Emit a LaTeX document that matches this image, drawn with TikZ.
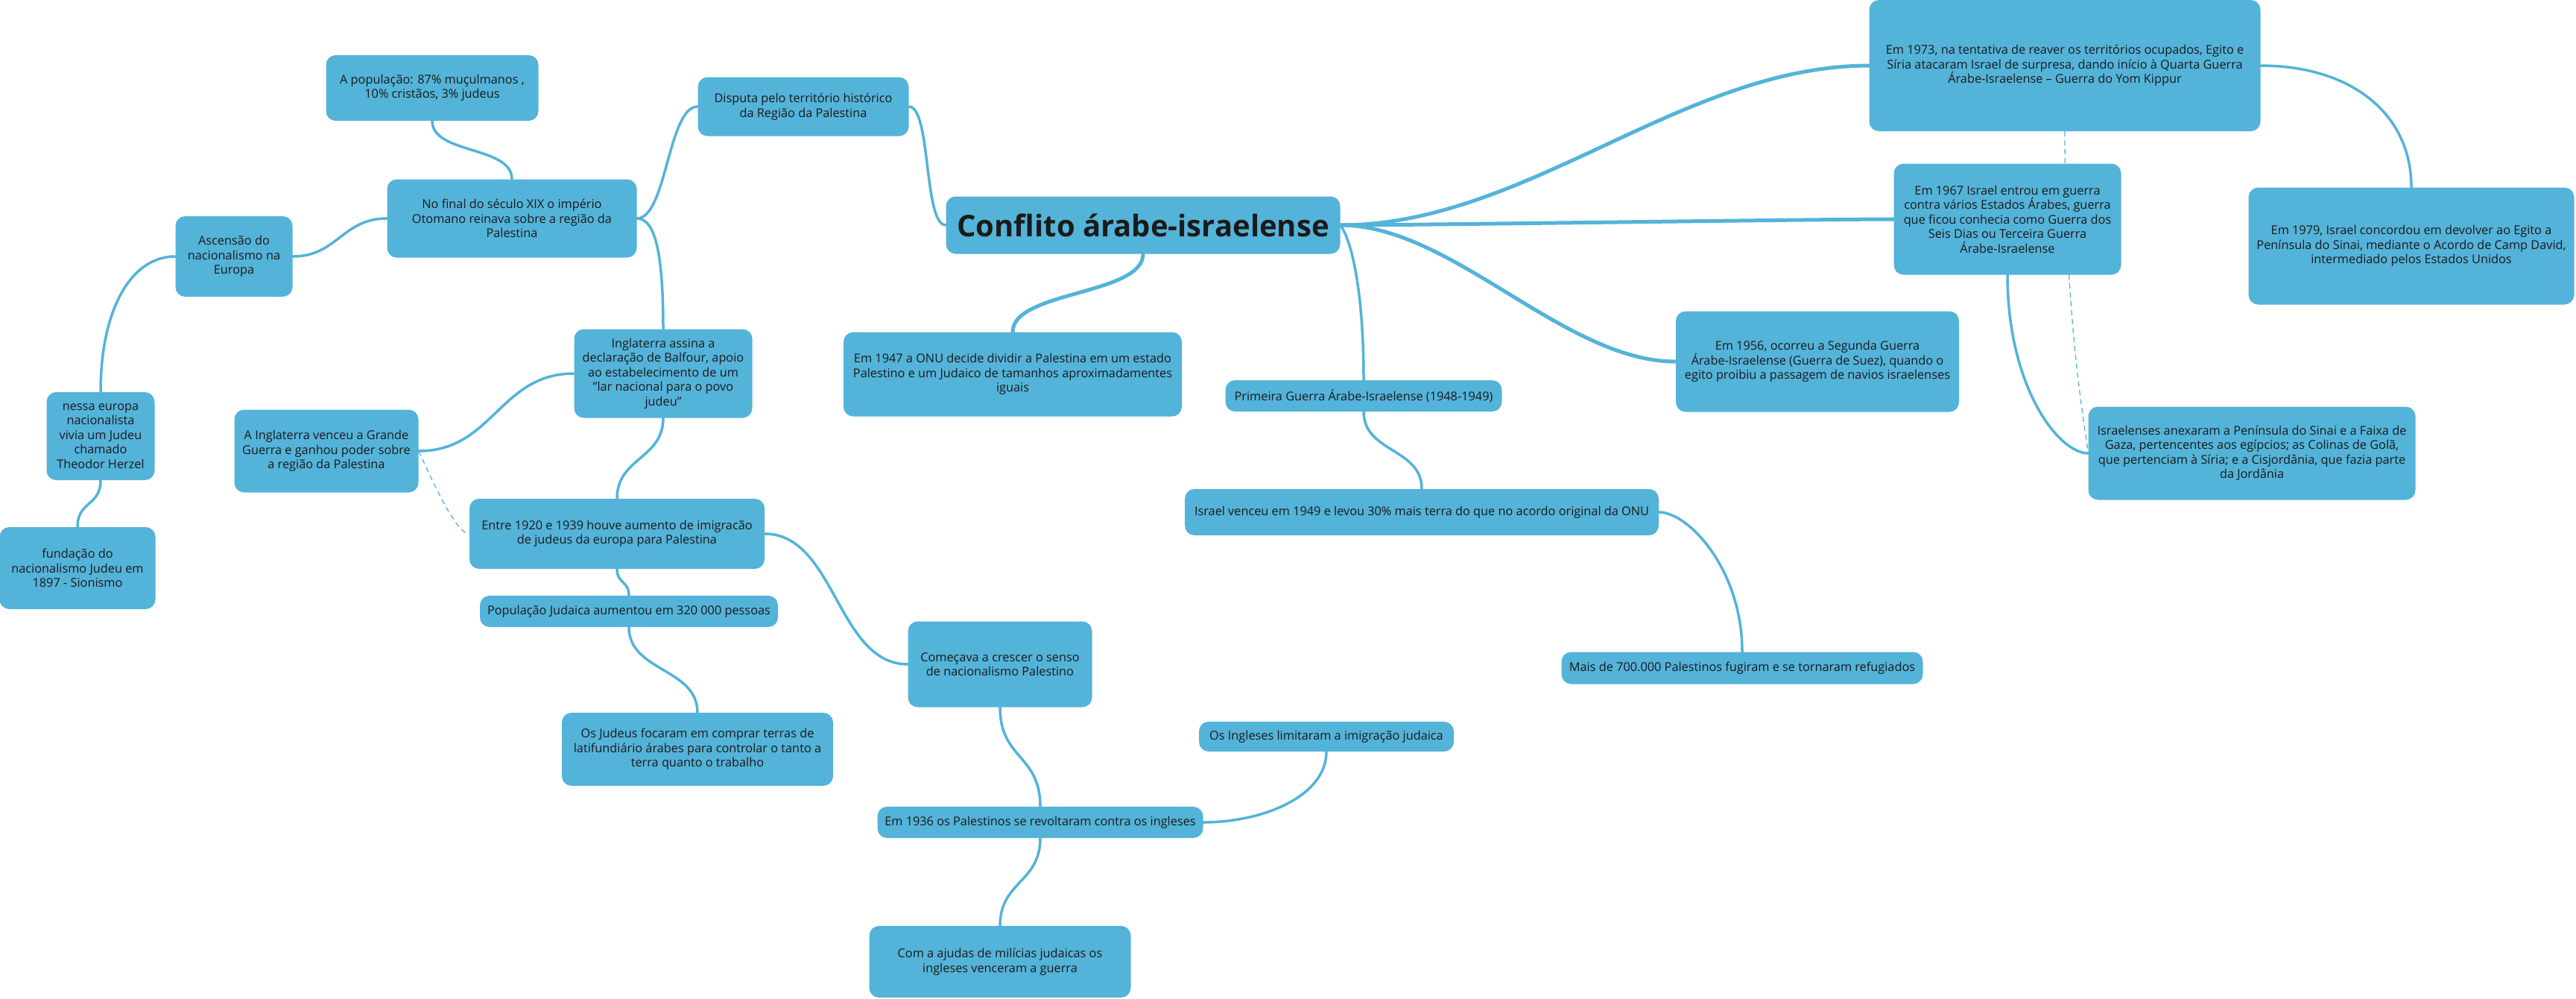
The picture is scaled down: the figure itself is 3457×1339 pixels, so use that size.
\documentclass[tikz,border=0pt]{standalone}
\usepackage{fontspec}
\setmainfont{Open Sans}
\definecolor{boxblue}{HTML}{54B3D9}
\definecolor{ink}{HTML}{1A1A1A}
\pgfdeclarelayer{back}
\pgfsetlayers{back,main}
\begin{document}
\begin{tikzpicture}[x=1pt, y=-1pt,
  box/.style={fill=boxblue, rounded corners=13pt, align=center, text=ink, inner sep=3pt,
    font=\fontsize{16.3}{19.5}\selectfont},
  sz/.style 2 args={minimum width=#1pt, minimum height=#2pt},
  link/.style={draw=boxblue, line width=3.5pt, line cap=round},
  mainlink/.style={link, line width=5pt},
  dashlink/.style={draw=boxblue, line width=1.3pt, dash pattern=on 7pt off 5pt}]
  \useasboundingbox (0,0) rectangle (3457,1339);

  \node[box, sz={529}{77}, font=\bfseries\fontsize{40}{46}\selectfont] (conf) at (1534,302) {Conflito árabe-israelense};

  \node[box, sz={283}{79}] (disp) at (1078,143) {Disputa pelo território histórico\\da Região da Palestina};
  \node[box, sz={335}{105}] (final) at (687,293) {No final do século XIX o império\\Otomano reinava sobre a região da\\Palestina};
  \node[box, sz={285}{88}] (popul) at (580,118) {A população: 87\% muçulmanos ,\\10\% cristãos, 3\% judeus};
  \node[box, sz={157}{108}] (ascen) at (314,344) {Ascensão do\\nacionalismo na\\Europa};
  \node[box, sz={145}{118}] (herzel) at (135,585) {nessa europa\\nacionalista\\vivia um Judeu\\chamado\\Theodor Herzel};
  \node[box, sz={209}{110}] (sion) at (104,762) {fundação do\\nacionalismo Judeu em\\1897 - Sionismo};
  \node[box, sz={247}{111}] (venc) at (438,605) {A Inglaterra venceu a Grande\\Guerra e ganhou poder sobre\\a região da Palestina};
  \node[box, sz={239}{119}] (balf) at (890,501) {Inglaterra assina a\\declaração de Balfour, apoio\\ao estabelecimento de um\\"lar nacional para o povo\\judeu"};
  \node[box, sz={396}{94}] (imig) at (828,716) {Entre 1920 e 1939 houve aumento de imigracão\\de judeus da europa para Palestina};
  \node[box, sz={400}{42}] (judpop) at (844,820) {População Judaica aumentou em 320 000 pessoas};
  \node[box, sz={364}{98}] (terras) at (936,1005) {Os Judeus focaram em comprar terras de\\latifundiário árabes para controlar o tanto a\\terra quanto o trabalho};
  \node[box, sz={247}{115}] (senso) at (1342,891) {Começava a crescer o senso\\de nacionalismo Palestino};
  \node[box, sz={342}{40}] (limit) at (1780,988) {Os Ingleses limitaram a imigração judaica};
  \node[box, sz={437}{42}] (revolt) at (1396,1103) {Em 1936 os Palestinos se revoltaram contra os ingleses};
  \node[box, sz={351}{96}] (milic) at (1342,1290) {Com a ajudas de milícias judaicas os\\ingleses venceram a guerra};

  \node[box, sz={454}{113}] (onu) at (1359,502) {Em 1947 a ONU decide dividir a Palestina em um estado\\Palestino e um Judaico de tamanhos aproximadamentes\\iguais};
  \node[box, sz={371}{42}] (prim) at (1830,531) {Primeira Guerra Árabe-Israelense (1948-1949)};
  \node[box, sz={636}{62}] (venceu) at (1908,687) {Israel venceu em 1949 e levou 30\% mais terra do que no acordo original da ONU};
  \node[box, sz={485}{43}] (refug) at (2338,896) {Mais de 700.000 Palestinos fugiram e se tornaram refugiados};
  \node[box, sz={380}{135}] (suez) at (2439,485) {Em 1956, ocorreu a Segunda Guerra\\Árabe-Israelense (Guerra de Suez), quando o\\egito proibiu a passagem de navios israelenses};
  \node[box, sz={305}{149}] (seis) at (2694,294) {Em 1967 Israel entrou em guerra\\contra vários Estados Árabes, guerra\\que ficou conhecia como Guerra dos\\Seis Dias ou Terceira Guerra\\Árabe-Israelense};
  \node[box, sz={525}{176}] (yom) at (2771,88) {Em 1973, na tentativa de reaver os territórios ocupados, Egito e\\Síria atacaram Israel de surpresa, dando início à Quarta Guerra\\Árabe-Israelense – Guerra do Yom Kippur};
  \node[box, sz={437}{157}] (camp) at (3236,330) {Em 1979, Israel concordou em devolver ao Egito a\\Península do Sinai, mediante o Acordo de Camp David,\\intermediado pelos Estados Unidos};
  \node[box, sz={439}{125}] (anex) at (3022,608) {Israelenses anexaram a Península do Sinai e a Faixa de\\Gaza, pertencentes aos egípcios; as Colinas de Golã,\\que pertenciam à Síria; e a Cisjordânia, que fazia parte\\da Jordânia};

  \begin{pgfonlayer}{back}
    \draw[link] (disp.east) .. controls +(30,0) and +(-30,0) .. (conf.west);
    \draw[link] (final.east) .. controls +(40,0) and +(-40,0) .. (disp.west);
    \draw[link] (final.east) .. controls +(25,0) and +(0,-100) .. (balf.north);
    \draw[link] (popul.south) .. controls +(0,45) and +(0,-45) .. (final.north);
    \draw[link] (ascen.east) .. controls +(60,0) and +(-60,0) .. (final.west);
    \draw[link] (ascen.west) .. controls +(-60,0) and +(0,-110) .. (herzel.north);
    \draw[link] (herzel.south) .. controls +(0,35) and +(0,-35) .. (sion.north);
    \draw[link] (venc.east) .. controls +(100,0) and +(-100,0) .. (balf.west);
    \draw[dashlink] (venc.east) .. controls +(10,20) and +(-20,0) .. (imig.west);
    \draw[link] (balf.south) .. controls +(0,55) and +(0,-55) .. (imig.north);
    \draw[link] (imig.south) .. controls +(0,20) and +(0,-20) .. (judpop.north);
    \draw[link] (judpop.south) .. controls +(0,60) and +(0,-60) .. (terras.north);
    \draw[link] (imig.east) .. controls +(95,0) and +(-95,0) .. (senso.west);
    \draw[link] (senso.south) .. controls +(0,70) and +(0,-70) .. (revolt.north);
    \draw[link] (limit.south) .. controls +(0,60) and +(80,0) .. (revolt.east);
    \draw[link] (revolt.south) .. controls +(0,60) and +(0,-60) .. (milic.north);
    \draw[mainlink] (conf.south) .. controls +(0,55) and +(0,-55) .. (onu.north);
    \draw[link] (conf.east) .. controls +(15,20) and +(0,-120) .. (prim.north);
    \draw[mainlink] (conf.east) .. controls +(150,0) and +(-150,0) .. (suez.west);
    \draw[mainlink] (conf.east) .. controls +(100,0) and +(-100,0) .. (seis.west);
    \draw[mainlink] (conf.east) .. controls +(250,0) and +(-250,0) .. (yom.west);
    \draw[link] (prim.south) .. controls +(0,55) and +(0,-55) .. (venceu.north);
    \draw[link] (venceu.east) .. controls +(40,0) and +(0,-110) .. (refug.north);
    \draw[link] (yom.east) .. controls +(120,0) and +(0,-100) .. (camp.north);
    \draw[link] (seis.south) .. controls +(0,150) and +(-40,0) .. (anex.west);
    \draw[dashlink] (yom.south) .. controls +(0,250) and +(-5,-40) .. (anex.west);
  \end{pgfonlayer}
\end{tikzpicture}
\end{document}
